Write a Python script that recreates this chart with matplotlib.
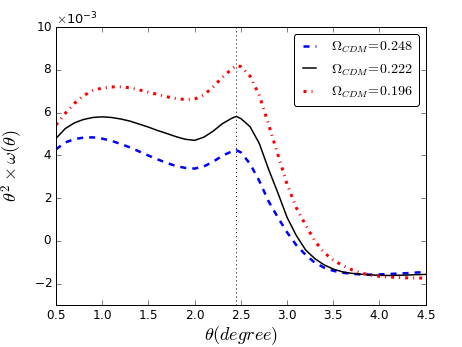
import numpy as np
import matplotlib
matplotlib.use("Agg")
import matplotlib.pyplot as plt

# theta in degrees, values in units of 1e-3
theta = [0.5, 0.6, 0.7, 0.8, 0.9, 1.0, 1.1, 1.2, 1.3, 1.4,
         1.5, 1.6, 1.7, 1.8, 1.9, 2.0, 2.1, 2.2, 2.3, 2.4, 2.45,
         2.5, 2.6, 2.7, 2.8, 2.9, 3.0, 3.1, 3.2, 3.3, 3.4,
         3.5, 3.6, 3.7, 3.8, 3.9, 4.0, 4.1, 4.2, 4.3, 4.4, 4.5]

w_248 = [4.28, 4.60, 4.76, 4.83, 4.84, 4.78, 4.68, 4.53, 4.37, 4.18,
         3.99, 3.81, 3.64, 3.50, 3.41, 3.38, 3.48, 3.70, 3.98, 4.18, 4.24,
         4.14, 3.60, 2.80, 1.85, 1.10, 0.40, -0.20, -0.65, -1.02, -1.25,
         -1.40, -1.49, -1.54, -1.57, -1.58, -1.57, -1.55, -1.53, -1.51, -1.48, -1.46]

w_222 = [4.79, 5.25, 5.52, 5.68, 5.77, 5.80, 5.77, 5.70, 5.60, 5.46,
         5.32, 5.16, 5.02, 4.87, 4.75, 4.70, 4.85, 5.13, 5.48, 5.73, 5.82,
         5.72, 5.34, 4.55, 3.35, 2.25, 1.10, 0.25, -0.42, -0.83, -1.12,
         -1.32, -1.45, -1.52, -1.56, -1.59, -1.61, -1.62, -1.61, -1.60, -1.58, -1.57]

w_196 = [5.42, 5.96, 6.43, 6.80, 7.03, 7.15, 7.20, 7.20, 7.16, 7.06,
         6.95, 6.85, 6.74, 6.65, 6.61, 6.63, 6.82, 7.20, 7.65, 8.03, 8.20,
         8.15, 7.70, 6.80, 5.45, 4.05, 2.65, 1.55, 0.75, 0.00, -0.55,
         -0.90, -1.15, -1.35, -1.50, -1.60, -1.66, -1.69, -1.71, -1.73, -1.74, -1.74]

theta_mark = 2.45

plt.style.use('classic')
plt.rcParams['figure.facecolor'] = 'white'
plt.rcParams['savefig.facecolor'] = 'white'
plt.rcParams['axes.formatter.use_mathtext'] = True

fig = plt.figure(figsize=(6.4, 4.8), dpi=72.3)
ax = fig.add_subplot(111)
fig.subplots_adjust(left=0.121, right=0.920, bottom=0.121, top=0.922)

scale = 1e-3
ax.plot(theta, np.array(w_248) * scale, 'b--', lw=2.5, label=r'$\Omega_{CDM}\!=\!0.248$')
ax.plot(theta, np.array(w_222) * scale, 'k-', lw=1.5, label=r'$\Omega_{CDM}\!=\!0.222$')
ax.plot(theta, np.array(w_196) * scale, 'r-.', lw=3, label=r'$\Omega_{CDM}\!=\!0.196$')
ax.axvline(theta_mark, color='k', ls=':', lw=1)

ax.set_xlim(0.5, 4.5)
ax.set_ylim(-3e-3, 10e-3)
ax.set_xticks(np.arange(0.5, 4.51, 0.5))
ax.set_yticks(np.arange(-2e-3, 10.1e-3, 2e-3))
ax.ticklabel_format(style='sci', axis='y', scilimits=(-3, -3))
ax.tick_params(labelsize=12, length=5)
ax.yaxis.get_offset_text().set_fontsize(13)

ax.set_xlabel(r'$\theta(degree)$', fontsize=18, labelpad=2)
ax.set_ylabel(r'$\theta^2\times\omega(\theta)$', fontsize=18)
ax.yaxis.set_label_coords(-0.085, 0.5)

leg = ax.legend(loc='upper right', fontsize=14, fancybox=True, handlelength=1.5)

fig.savefig('out.png', dpi=72.3)
